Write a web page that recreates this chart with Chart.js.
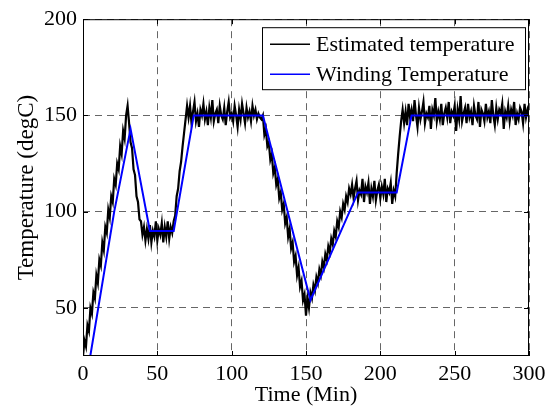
<!DOCTYPE html>
<html>
<head>
<meta charset="utf-8">
<script src="https://cdn.jsdelivr.net/npm/chart.js@4.4.0/dist/chart.umd.min.js"></script>
<style>
  html, body { margin: 0; padding: 0; background: #fff; }
</style>
</head>
<body>
<canvas id="myChart" width="552" height="412"></canvas>
<script>
// tick labels
const xTicks = [0, 50, 100, 150, 200, 250, 300];
const yTicks = [50, 100, 150, 200];

// winding temperature (reference profile), time in minutes
const windingTime = [4.9, 21, 32, 45, 61, 74.5, 121, 153, 185, 211, 221, 300];
const windingTemp = [25, 100, 143, 90, 90, 150, 150, 54, 110, 110, 150, 150];

// estimated temperature, one sample per minute starting at t = 0
const estimatedTemp = [
  // 0..30 first ramp
  25, 33, 30, 41, 38, 50, 47, 58, 55, 67, 63, 75, 72, 84, 80, 92, 89, 101, 97, 108,
  105, 117, 114, 125, 122, 134, 130, 142, 138, 150, 155,
  // 31..40 drop
  146, 136, 133, 122, 119, 108, 105, 96, 95, 88,
  // 41..60 around 90
  92, 85, 91, 86, 93, 84, 90, 87, 95, 85, 91, 88, 94, 84, 92, 87, 95, 86, 92, 89,
  // 61..70 rise
  95, 98, 108, 112, 121, 126, 134, 141, 148, 155,
  // 71..119 around 150
  149, 155, 146, 152, 157, 147, 151, 144, 153, 150,
  156, 148, 152, 145, 154, 149, 158, 147, 151, 153,
  146, 155, 150, 148, 154, 145, 152, 157, 149, 151,
  147, 155, 150, 144, 153, 148, 156, 151, 146, 154,
  149, 152, 147, 155, 150, 153, 148, 151, 149,
  // 120..150 long fall
  148, 150, 140, 143, 134, 136, 127, 130, 120, 123,
  114, 117, 107, 110, 101, 104, 94, 97, 87, 91,
  81, 84, 74, 77, 67, 71, 61, 64, 54, 57, 46,
  // 151..180 rise
  55, 50, 58, 55, 62, 59, 66, 63, 70, 67, 74, 71, 78, 75, 82,
  79, 86, 83, 90, 87, 95, 92, 100, 97, 104, 101, 108, 105, 112, 109,
  // 181..210 around 110
  114, 107, 112, 116, 106, 111, 109, 117, 105, 113,
  110, 115, 104, 112, 108, 116, 106, 111, 114, 107,
  113, 109, 117, 105, 112, 110, 115, 104, 111, 108,
  // 211..216 rise
  120, 130, 139, 147, 153, 146,
  // 217..300 around 150
  152, 145, 156, 149, 153, 147, 158, 150, 144, 154,
  148, 152, 157, 146, 151, 149, 155, 143, 153, 150,
  159, 147, 152, 148, 156, 145, 151, 154, 149, 157,
  146, 152, 150, 155, 142, 153, 148, 160, 147, 151,
  154, 146, 156, 149, 152, 145, 155, 150, 148, 157,
  144, 153, 151, 147, 156, 149, 152, 146, 158, 150,
  145, 154, 148, 153, 151, 156, 143, 152, 149, 155,
  147, 153, 150, 157, 145, 151, 148, 154, 152, 146,
  156, 149, 153, 150
];

const serif = '"Liberation Serif", "Times New Roman", serif';

// box round the plot, inward tick marks and the legend
const framePlugin = {
  id: 'frame',
  afterDatasetsDraw(chart) {
    const { ctx, chartArea: a, scales } = chart;
    ctx.save();
    ctx.strokeStyle = '#000';
    ctx.lineWidth = 1;
    ctx.strokeRect(a.left + 0.5, a.top + 0.5, a.right - a.left - 1, a.bottom - a.top - 1);
    ctx.beginPath();
    xTicks.forEach((v) => {
      const px = Math.round(scales.x.getPixelForValue(v)) + 0.5;
      ctx.moveTo(px, a.bottom); ctx.lineTo(px, a.bottom - 5);
      ctx.moveTo(px, a.top); ctx.lineTo(px, a.top + 5);
    });
    yTicks.forEach((v) => {
      const py = Math.round(scales.y.getPixelForValue(v)) + 0.5;
      ctx.moveTo(a.left, py); ctx.lineTo(a.left + 5, py);
      ctx.moveTo(a.right, py); ctx.lineTo(a.right - 5, py);
    });
    ctx.stroke();
    ctx.restore();
  },
  afterDraw(chart) {
    const { ctx, chartArea: a } = chart;
    const right = a.right - 4;
    const left = right - 263;
    const top = a.top + 8;
    ctx.save();
    ctx.fillStyle = '#fff';
    ctx.fillRect(left, top, right - left, 62);
    ctx.strokeStyle = '#000';
    ctx.lineWidth = 1;
    ctx.strokeRect(left + 0.5, top + 0.5, right - left, 62);
    ctx.font = '22px ' + serif;
    ctx.textBaseline = 'middle';
    chart.data.datasets.forEach((ds, i) => {
      const y = top + 17 + i * 30;
      ctx.strokeStyle = ds.borderColor;
      ctx.lineWidth = 1.5;
      ctx.beginPath();
      ctx.moveTo(left + 8, y);
      ctx.lineTo(left + 48, y);
      ctx.stroke();
      ctx.fillStyle = '#000';
      ctx.fillText(ds.label, left + 54, y + 1);
    });
    ctx.restore();
  }
};

const ctx = document.getElementById('myChart');

new Chart(ctx, {
  type: 'line',
  data: {
    datasets: [
      {
        label: 'Estimated temperature',
        data: estimatedTemp.map((v, i) => ({ x: i, y: v })),
        borderColor: '#000000',
        borderWidth: 2.2,
        pointRadius: 0,
        order: 2
      },
      {
        label: 'Winding Temperature',
        data: windingTime.map((t, i) => ({ x: t, y: windingTemp[i] })),
        borderColor: '#0000ff',
        borderWidth: 2,
        pointRadius: 0,
        order: 1
      }
    ]
  },
  options: {
    responsive: false,
    animation: false,
    layout: { padding: { top: 12, right: 23, left: 0, bottom: 0 } },
    plugins: {
      legend: { display: false },
      tooltip: { enabled: false }
    },
    scales: {
      x: {
        type: 'linear',
        min: 0,
        max: 300,
        afterBuildTicks: (s) => { s.ticks = xTicks.map((v) => ({ value: v })); },
        afterFit: (s) => { s.height = 56; },
        grid: { color: '#666', drawTicks: false },
        border: { display: false, dash: [7, 5] },
        ticks: { color: '#000', padding: 5, maxRotation: 0, font: { family: serif, size: 22 } },
        title: {
          display: true,
          text: 'Time (Min)',
          color: '#000',
          font: { family: serif, size: 22 },
          padding: { top: 0, bottom: 4 }
        }
      },
      y: {
        type: 'linear',
        min: 25,
        max: 200,
        afterBuildTicks: (s) => { s.ticks = yTicks.map((v) => ({ value: v })); },
        afterFit: (s) => { s.width = 83; },
        grid: { color: '#666', drawTicks: false },
        border: { display: false, dash: [7, 5] },
        ticks: { color: '#000', padding: 6, font: { family: serif, size: 22 } },
        title: {
          display: true,
          text: 'Temperature (degC)',
          color: '#000',
          font: { family: serif, size: 23 },
          padding: { top: 13, bottom: 0 }
        }
      }
    }
  },
  plugins: [framePlugin]
});
</script>
</body>
</html>
